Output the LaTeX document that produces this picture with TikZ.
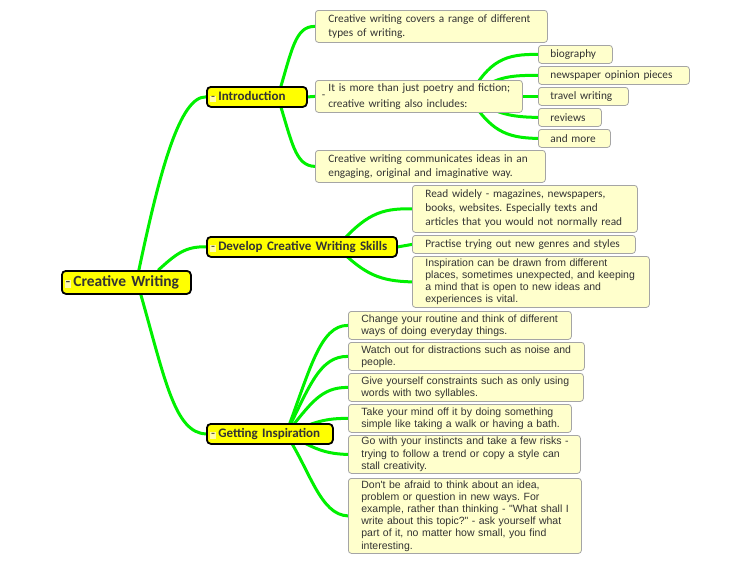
\documentclass[tikz,border=0pt]{standalone}
\usepackage{fontspec}
\setmainfont{Carlito}
\newfontfamily\arialf{Liberation Sans}
\usetikzlibrary{backgrounds}
\frenchspacing
\hbadness=10000 \hfuzz=100pt
\definecolor{leafbg}{RGB}{255,255,204}
\definecolor{leafborder}{RGB}{165,165,165}
\definecolor{topicbg}{RGB}{255,255,0}
\definecolor{markbg}{RGB}{255,250,170}
\definecolor{txt}{RGB}{51,51,51}
\definecolor{conngreen}{RGB}{0,240,0}
\newcommand\tmark{{\setlength\fboxsep{1.2pt}\colorbox{markbg}{\makebox[4pt]{\normalfont -}}}\hspace{2pt}}
\newcommand\li[1]{\mbox{#1}}
\tikzset{
  leaf/.style={draw=leafborder, line width=0.8pt, fill=leafbg, rounded corners=3pt,
    anchor=north west, inner xsep=13pt, inner ysep=0pt, align=left, text=txt,
    font=\frenchspacing\fontsize{11.3}{14}\selectfont},
  aleaf/.style={leaf, font=\frenchspacing\arialf\fontsize{10.5}{12.2}\selectfont},
  subleaf/.style={leaf, inner xsep=12pt, minimum height=18pt},
  topic/.style={draw=black, line width=1.8pt, fill=topicbg, rounded corners=4pt,
    anchor=north west, inner xsep=3pt, inner ysep=0pt, align=left, text=txt,
    font=\bfseries\fontsize{13}{15}\selectfont, minimum height=20pt},
  conn/.style={draw=conngreen, line width=3pt, line cap=round}
}
\begin{document}
\begin{tikzpicture}[x=1pt,y=-1pt]
\useasboundingbox (0,0) rectangle (750,563);
% topics
\node[topic, minimum width=129pt, text width=123pt, minimum height=23pt, font=\bfseries\fontsize{15.5}{17}\selectfont] (cw) at (61,270) {\tmark Creative Writing};
\node[topic, minimum width=100pt, text width=94pt] (intro) at (206,86) {\tmark Introduction};
\node[topic, minimum width=190pt, text width=184pt] (dev) at (206,236) {\tmark Develop Creative Writing Skills};
\node[topic, minimum width=126pt, text width=120pt] (get) at (206,423) {\tmark Getting Inspiration};
% introduction leaves
\node[leaf, minimum width=232pt, text width=206pt, minimum height=32pt] (l1) at (315,10) {\li{Creative writing covers a range of different}\\\li{types of writing.}};
\node[leaf, minimum width=207pt, text width=181pt, minimum height=32pt] (l2) at (315,80) {\li{\llap{\raisebox{-7pt}{-}\hspace{3pt}}It is more than just poetry and fiction;}\\\li{creative writing also includes:}};
\node[leaf, minimum width=230pt, text width=204pt, minimum height=32pt] (l3) at (315,150) {\li{Creative writing communicates ideas in an}\\\li{engaging, original and imaginative way.}};
\node[subleaf, minimum width=74pt, text width=50pt] (s1) at (538,45) {\li{biography}};
\node[subleaf, minimum width=151pt, text width=127pt] (s2) at (538,66) {\li{newspaper opinion pieces}};
\node[subleaf, minimum width=90pt, text width=66pt] (s3) at (538,87) {\li{travel writing}};
\node[subleaf, minimum width=63pt, text width=39pt] (s4) at (538,108) {\li{reviews}};
\node[subleaf, minimum width=72pt, text width=48pt] (s5) at (538,129) {\li{and more}};
% develop leaves
\node[leaf, minimum width=225pt, text width=199pt, minimum height=47pt] (d1) at (412,185) {\li{Read widely - magazines, newspapers,}\\\li{books, websites. Especially texts and}\\\li{articles that you would not normally read}};
\node[leaf, minimum width=223pt, text width=197pt, minimum height=18pt] (d2) at (412,235) {\li{Practise trying out new genres and styles}};
\node[aleaf, minimum width=237pt, text width=211pt, minimum height=51pt] (d3) at (412,256) {\li{Inspiration can be drawn from different}\\\li{places, sometimes unexpected, and keeping}\\\li{a mind that is open to new ideas and}\\\li{experiences is vital.}};
% getting inspiration leaves
\node[aleaf, minimum width=223pt, text width=197pt, minimum height=28pt] (g1) at (348,311) {\li{Change your routine and think of different}\\\li{ways of doing everyday things.}};
\node[aleaf, minimum width=236pt, text width=210pt, minimum height=28pt] (g2) at (348,342) {\li{Watch out for distractions such as noise and}\\\li{people.}};
\node[aleaf, minimum width=235pt, text width=209pt, minimum height=28pt] (g3) at (348,373) {\li{Give yourself constraints such as only using}\\\li{words with two syllables.}};
\node[aleaf, minimum width=223pt, text width=197pt, minimum height=28pt] (g4) at (348,404) {\li{Take your mind off it by doing something}\\\li{simple like taking a walk or having a bath.}};
\node[aleaf, minimum width=232pt, text width=206pt, minimum height=38pt] (g5) at (348,435) {\li{Go with your instincts and take a few risks -}\\\li{trying to follow a trend or copy a style can}\\\li{stall creativity.}};
\node[aleaf, minimum width=233pt, text width=207pt, minimum height=75pt] (g6) at (348,478) {\li{Don't be afraid to think about an idea,}\\\li{problem or question in new ways. For}\\\li{example, rather than thinking - "What shall I}\\\li{write about this topic?" - ask yourself what}\\\li{part of it, no matter how small, you find}\\\li{interesting.}};
% connectors
\begin{pgfonlayer}{background}
\draw[conn] ([xshift=12.5pt]cw.north) .. controls (160,170) and (180,96) .. (intro.west);
\draw[conn] ([xshift=32pt]cw.north) .. controls (175,255) and (185,246) .. (dev.west);
\draw[conn] ([xshift=14.5pt]cw.south) .. controls (165,380) and (175,433) .. (get.west);
\draw[conn] ([xshift=-30pt]intro.east) .. controls (292,50) and (295,26) .. (l1.west);
\draw[conn] (intro.east) -- (l2.west);
\draw[conn] ([xshift=-30pt]intro.east) .. controls (292,142) and (295,166) .. (l3.west);
\draw[conn] ([xshift=50pt]l2.center) .. controls (490,60) and (505,54) .. (s1.west);
\draw[conn] ([xshift=50pt]l2.center) .. controls (495,78) and (505,75) .. (s2.west);
\draw[conn] (l2.east) -- (s3.west);
\draw[conn] ([xshift=50pt]l2.center) .. controls (495,112) and (505,117) .. (s4.west);
\draw[conn] ([xshift=50pt]l2.center) .. controls (490,130) and (505,138) .. (s5.west);
\draw[conn] ([xshift=35pt]dev.center) .. controls (365,215) and (380,208) .. (d1.west);
\draw[conn] (dev.east) -- (d2.west);
\draw[conn] ([xshift=35pt]dev.center) .. controls (365,275) and (380,281) .. (d3.west);
\draw[conn] ([xshift=16pt]get.center) .. controls (310,370) and (320,325) .. (g1.west);
\draw[conn] ([xshift=16pt]get.center) .. controls (310,385) and (320,356) .. (g2.west);
\draw[conn] ([xshift=16pt]get.center) .. controls (310,405) and (320,387) .. (g3.west);
\draw[conn] ([xshift=16pt]get.center) .. controls (310,425) and (320,418) .. (g4.west);
\draw[conn] ([xshift=16pt]get.center) .. controls (310,445) and (320,454) .. (g5.west);
\draw[conn] ([xshift=16pt]get.center) .. controls (310,470) and (320,515) .. (g6.west);
\end{pgfonlayer}
\end{tikzpicture}
\end{document}
